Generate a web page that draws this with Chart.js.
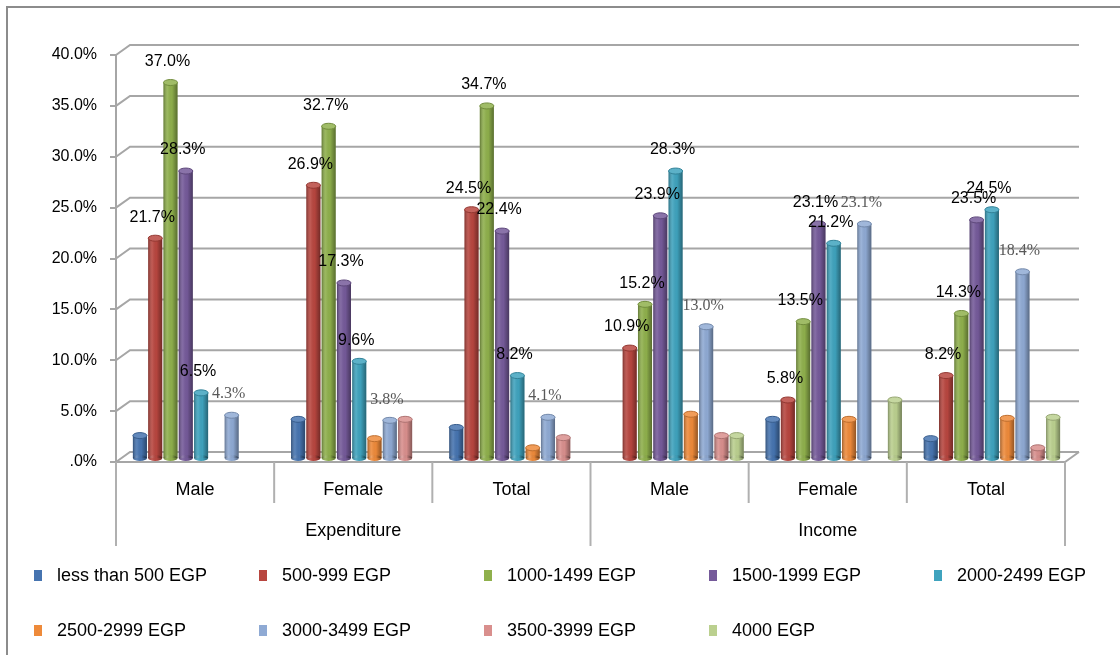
<!DOCTYPE html>
<html>
<head>
<meta charset="utf-8">
<script src="https://cdn.jsdelivr.net/npm/chart.js@4.4.1/dist/chart.umd.min.js"></script>
<style>
html, body { margin: 0; padding: 0; background: #fff; }
canvas { display: block; }
</style>
</head>
<body>
<canvas id="chartEgp" width="1120" height="655"></canvas>
<script>
// categories and groups
var categories = ['Male', 'Female', 'Total', 'Male', 'Female', 'Total'];
var groups = ['Expenditure', 'Income'];

// series names (legend order)
var seriesNames = ['less than 500 EGP', '500-999 EGP', '1000-1499 EGP', '1500-1999 EGP', '2000-2499 EGP',
    '2500-2999 EGP', '3000-3499 EGP', '3500-3999 EGP', '4000 EGP'];

// values in %, per category
var lessThan500 = [2.3, 3.9, 3.1, 0, 3.9, 2.0];
var from500 = [21.7, 26.9, 24.5, 10.9, 5.8, 8.2];
var from1000 = [37.0, 32.7, 34.7, 15.2, 13.5, 14.3];
var from1500 = [28.3, 17.3, 22.4, 23.9, 23.1, 23.5];
var from2000 = [6.5, 9.6, 8.2, 28.3, 21.2, 24.5];
var from2500 = [0, 2.0, 1.1, 4.4, 3.9, 4.0];
var from3000 = [4.3, 3.8, 4.1, 13.0, 23.1, 18.4];
var from3500 = [0, 3.9, 2.1, 2.3, 0, 1.1];
var from4000 = [0, 0, 0, 2.3, 5.8, 4.1];

var yTicks = [0, 5, 10, 15, 20, 25, 30, 35, 40];

var seriesData = [lessThan500, from500, from1000, from1500, from2000, from2500, from3000, from3500, from4000];
var seriesColors = ['#4674B0', '#B8463F', '#8FB04C', '#755A9A', '#3FA3BE', '#EE8A3A', '#8FAAD4', '#D98F8D', '#BBD08F'];

// which series carry value labels
var sansLabelSeries = [1, 2, 3, 4];
var serifLabelSeries = [6];

var gridColor = '#a6a6a6';
var DX = 14, DY = -10;      // 3D depth offset of the back wall
var BAR_DX = 6, BAR_DY = -3; // bars sit half way into the depth

// lighten (amt>0) or darken (amt<0) a hex colour
function shade(hex, amt) {
    var n = parseInt(hex.slice(1), 16);
    var r = (n >> 16) & 255, g = (n >> 8) & 255, b = n & 255;
    function f(c) {
        return Math.round(amt >= 0 ? c + (255 - c) * amt : c * (1 + amt));
    }
    return 'rgb(' + f(r) + ',' + f(g) + ',' + f(b) + ')';
}

var chartDecor = {
    id: 'chartDecor',
    beforeDatasetsDraw: function (chart) {
        var ctx = chart.ctx, a = chart.chartArea, ys = chart.scales.y;
        ctx.save();
        ctx.strokeStyle = gridColor;
        ctx.lineWidth = 2;
        // back wall gridlines with a slanted link to the front axis
        yTicks.forEach(function (v) {
            var py = ys.getPixelForValue(v);
            ctx.beginPath();
            ctx.moveTo(a.left, py);
            ctx.lineTo(a.left + DX, py + DY);
            ctx.lineTo(a.right + DX, py + DY);
            ctx.stroke();
        });
        // floor front edge
        ctx.beginPath();
        ctx.moveTo(a.left, a.bottom);
        ctx.lineTo(a.right, a.bottom);
        ctx.lineTo(a.right + DX, a.bottom + DY);
        ctx.stroke();
        ctx.restore();
        // shift the bars into the depth; restored in afterDatasetsDraw
        ctx.save();
        ctx.translate(BAR_DX, BAR_DY);
    },
    afterDatasetsDraw: function (chart) {
        var ctx = chart.ctx;
        // cylinder shading (still translated)
        chart.data.datasets.forEach(function (ds, i) {
            var meta = chart.getDatasetMeta(i);
            meta.data.forEach(function (bar, j) {
                if (!ds.data[j]) return;
                var w = bar.width, x0 = bar.x - w / 2, top = bar.y, base = bar.base;
                var g = ctx.createLinearGradient(x0, 0, x0 + w, 0);
                g.addColorStop(0, 'rgba(0,0,0,0.32)');
                g.addColorStop(0.3, 'rgba(255,255,255,0.10)');
                g.addColorStop(0.6, 'rgba(0,0,0,0.02)');
                g.addColorStop(1, 'rgba(0,0,0,0.38)');
                ctx.beginPath();
                ctx.ellipse(bar.x, base, w / 2, 3, 0, 0, Math.PI * 2);
                ctx.fillStyle = ds.backgroundColor;
                ctx.fill();
                ctx.fillStyle = g;
                ctx.fill();
                ctx.fillRect(x0, top, w, base - top);
                ctx.beginPath();
                ctx.ellipse(bar.x, top, w / 2, 3, 0, 0, Math.PI * 2);
                ctx.fillStyle = shade(ds.backgroundColor, 0.15);
                ctx.fill();
                ctx.strokeStyle = shade(ds.backgroundColor, -0.2);
                ctx.lineWidth = 1;
                ctx.stroke();
            });
        });
        // value labels
        ctx.textAlign = 'center';
        ctx.textBaseline = 'middle';
        chart.data.datasets.forEach(function (ds, i) {
            var serif = serifLabelSeries.indexOf(i) >= 0;
            if (!serif && sansLabelSeries.indexOf(i) < 0) return;
            ctx.font = serif ? "16px 'Liberation Serif', 'Times New Roman', serif" : "16px 'Liberation Sans', Arial, sans-serif";
            ctx.fillStyle = serif ? '#595959' : '#000';
            chart.getDatasetMeta(i).data.forEach(function (bar, j) {
                if (!ds.data[j]) return;
                ctx.fillText(ds.data[j].toFixed(1) + '%', bar.x - 3, bar.y - 21);
            });
        });
        ctx.restore();
    },
    afterDraw: function (chart) {
        var ctx = chart.ctx, a = chart.chartArea, xs = chart.scales.x;
        var half = (xs.getPixelForValue(1) - xs.getPixelForValue(0)) / 2;
        var perGroup = categories.length / groups.length;
        ctx.save();
        ctx.strokeStyle = '#b0b0b0';
        ctx.lineWidth = 2;
        // category separators, longer at group edges
        for (var k = 0; k <= categories.length; k++) {
            var px = k < categories.length ? xs.getPixelForValue(k) - half : xs.getPixelForValue(k - 1) + half;
            ctx.beginPath();
            ctx.moveTo(px, a.bottom);
            ctx.lineTo(px, k % perGroup === 0 ? 546 : 503);
            ctx.stroke();
        }
        // group labels
        ctx.fillStyle = '#000';
        ctx.font = "18px 'Liberation Sans', Arial, sans-serif";
        ctx.textAlign = 'center';
        ctx.textBaseline = 'middle';
        groups.forEach(function (name, gi) {
            var cx = (xs.getPixelForValue(gi * perGroup) + xs.getPixelForValue(gi * perGroup + perGroup - 1)) / 2;
            ctx.fillText(name, cx, 531);
        });
        // legend: 5 columns
        ctx.textAlign = 'left';
        chart.data.datasets.forEach(function (ds, i) {
            var lx = 34 + (i % 5) * 225;
            var ly = 576 + Math.floor(i / 5) * 55;
            ctx.fillStyle = ds.backgroundColor;
            ctx.fillRect(lx, ly - 6, 8, 11);
            ctx.fillStyle = '#000';
            ctx.fillText(ds.label, lx + 23, ly);
        });
        // outer frame
        ctx.strokeStyle = '#8c8c8c';
        ctx.lineWidth = 2;
        ctx.beginPath();
        ctx.moveTo(7, chart.height);
        ctx.lineTo(7, 7);
        ctx.lineTo(chart.width, 7);
        ctx.stroke();
        ctx.restore();
    }
};

Chart.defaults.font.family = "'Liberation Sans', Arial, sans-serif";
Chart.defaults.color = '#000';

var datasets = seriesNames.map(function (name, i) {
    return {
        label: name,
        data: seriesData[i],
        backgroundColor: seriesColors[i],
        borderWidth: 0,
        categoryPercentage: 0.87,
        barPercentage: 0.92
    };
});

new Chart(document.getElementById('chartEgp').getContext('2d'), {
    type: 'bar',
    data: { labels: categories, datasets: datasets },
    options: {
        responsive: false,
        animation: false,
        layout: { padding: { left: 0, right: 55, top: 55, bottom: 0 } },
        plugins: {
            legend: { display: false },
            tooltip: { enabled: false }
        },
        scales: {
            y: {
                min: 0,
                max: 40,
                afterBuildTicks: function (axis) {
                    axis.ticks = yTicks.map(function (v) { return { value: v }; });
                },
                afterFit: function (s) { s.width = 116; },
                grid: { drawOnChartArea: false, drawTicks: true, tickLength: 6, color: gridColor, lineWidth: 2 },
                border: { display: true, color: gridColor, width: 2 },
                ticks: {
                    padding: 13,
                    font: { size: 16 },
                    callback: function (v) { return v === 0 ? '.0%' : v.toFixed(1) + '%'; }
                }
            },
            x: {
                afterFit: function (s) { s.height = 193; },
                grid: { display: false, drawTicks: false },
                border: { display: false },
                ticks: { padding: 17, font: { size: 18 }, maxRotation: 0, autoSkip: false }
            }
        }
    },
    plugins: [chartDecor]
});
</script>
</body>
</html>
